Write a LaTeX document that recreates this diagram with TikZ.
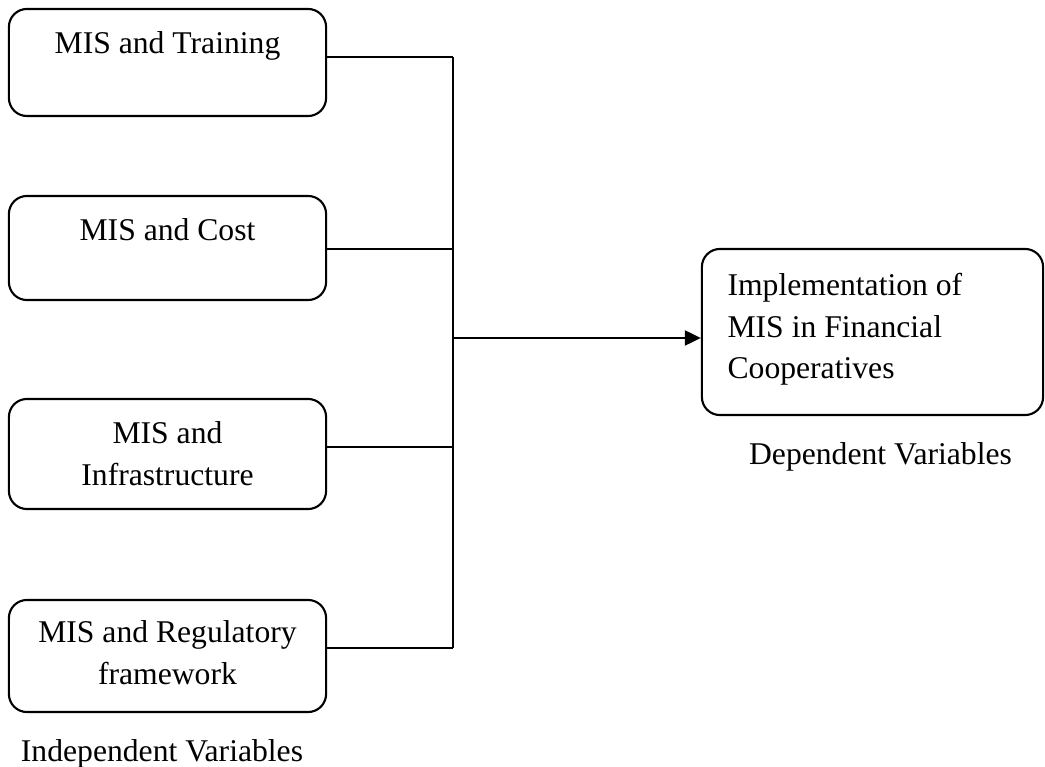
\documentclass[tikz,border=0pt]{standalone}
\usepackage{fontspec}
\setmainfont{Liberation Serif}
\usetikzlibrary{arrows.meta}

\newcommand{\boxw}{3.17cm}   % width of the left boxes
\newcommand{\rad}{0.18cm}
\newcommand{\lw}{0.6pt}
\newcommand{\busx}{453}      % x of the collecting line

\tikzset{
  ivbox/.style={draw,line width=\lw,rounded corners=\rad,minimum width=\boxw,inner sep=0pt},
  txt/.style={font=\fontsize{9}{11.8}\selectfont,inner sep=0pt,align=center},
  boxtxt/.style={txt,anchor=north,yshift=#1},
  lnk/.style={line width=\lw},
}

\begin{document}
\begin{tikzpicture}[x=0.01cm,y=-0.01cm]
  \useasboundingbox (0,0) rectangle (1045,767);
  % independent variables
  \node[ivbox,minimum height=1.07cm,label={[boxtxt=-0.23cm]north:MIS and Training}] (train) at (167.5,62.5) {};
  \node[ivbox,minimum height=1.04cm,label={[boxtxt=-0.23cm]north:MIS and Cost}] (cost) at (167.5,248) {};
  \node[ivbox,minimum height=1.10cm,label={[boxtxt=-0.23cm]north:MIS and\\Infrastructure}] (infra) at (167.5,454) {};
  \node[ivbox,minimum height=1.12cm,label={[boxtxt=-0.21cm]north:MIS and Regulatory\\framework}] (reg) at (167.5,656) {};
  \node[txt,anchor=base] (indep) at (162,761) {Independent Variables};
  % dependent variable
  \node[ivbox,minimum width=3.41cm,minimum height=1.66cm,
        label={[txt,align=left,anchor=north west,xshift=0.26cm,yshift=-0.25cm]north west:Implementation of\\MIS in Financial\\Cooperatives}] (impl) at (872.5,332) {};
  \node[txt,anchor=base] (dep) at (880.5,465) {Dependent Variables};
  % collecting line
  \coordinate (j1) at (\busx,57);
  \coordinate (j2) at (\busx,249);
  \coordinate (j3) at (\busx,447);
  \coordinate (j4) at (\busx,648);
  \coordinate (jm) at (\busx,338);
  \draw[lnk] (train.east |- j1) -- (j1);
  \draw[lnk] (cost.east |- j2) -- (j2);
  \draw[lnk] (infra.east |- j3) -- (j3);
  \draw[lnk] (reg.east |- j4) -- (j4);
  \draw[lnk] (j1) -- (j4);
  \draw[lnk,-{Triangle[length=0.16cm,width=0.15cm]}] (jm) -- (impl.west |- jm);
\end{tikzpicture}
\end{document}
